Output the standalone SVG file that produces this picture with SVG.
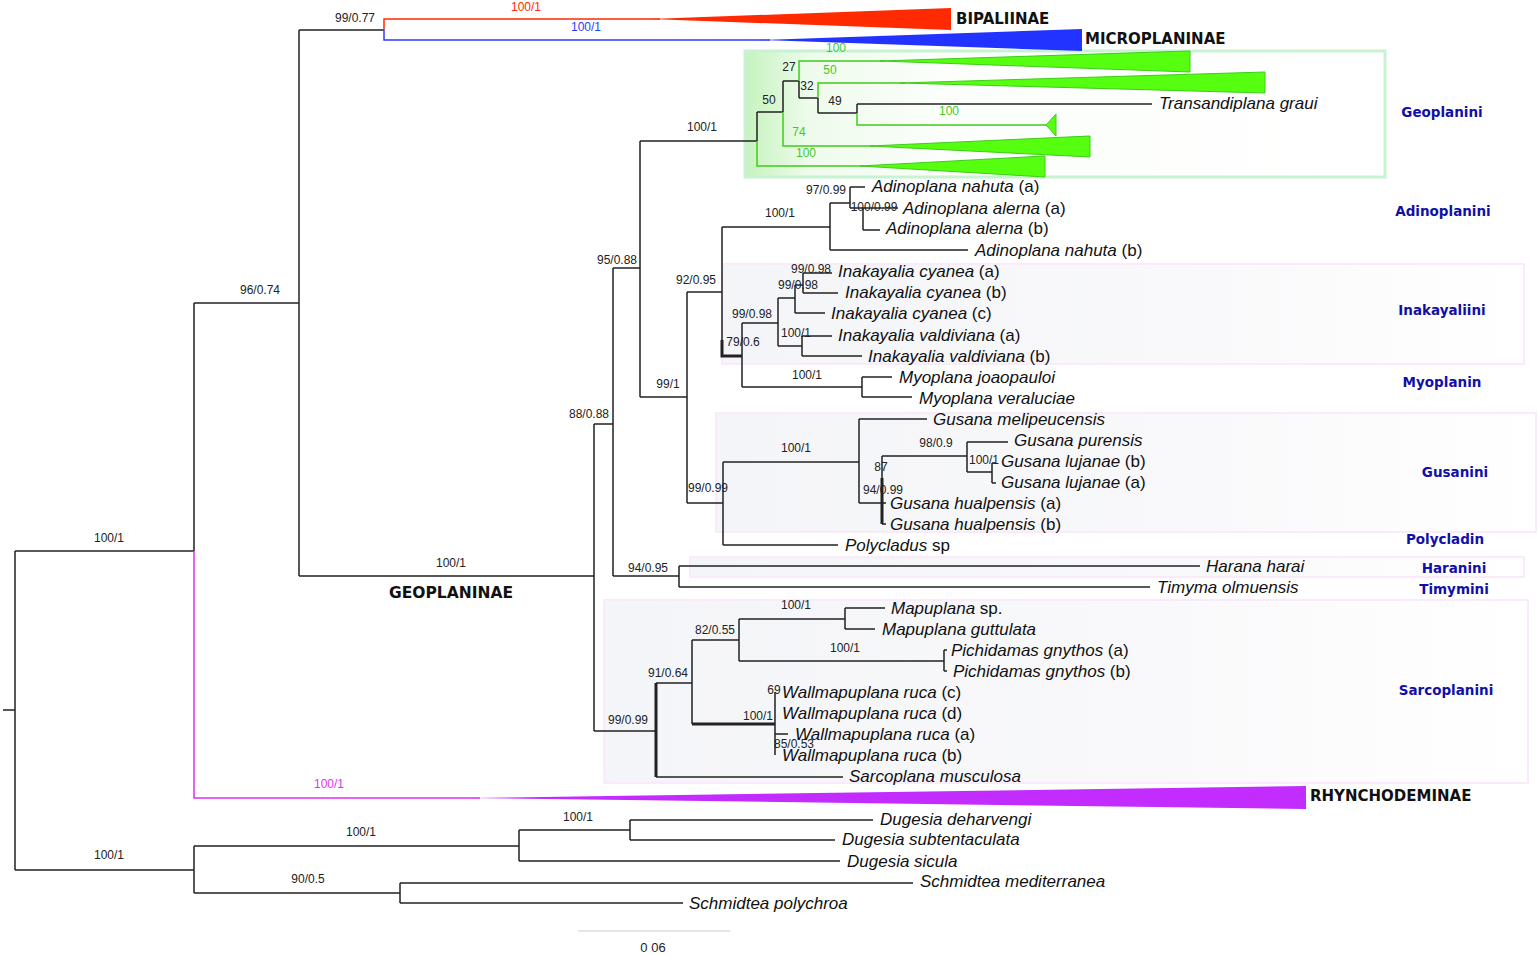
<svg xmlns="http://www.w3.org/2000/svg" width="1539" height="955" viewBox="0 0 1539 955">
<style>
.br{fill:none;stroke:#222;stroke-width:1.5}
.thk{fill:none;stroke:#222;stroke-width:3}
.gr{fill:none;stroke:#3fcc1a;stroke-width:1.5}
.gtri{fill:#55ff0f;stroke:#3fcc1a;stroke-width:1}
.sup{font-family:"Liberation Sans",Arial,sans-serif;font-size:12px;fill:#222;text-anchor:middle}
.gsup{font-family:"Liberation Sans",Arial,sans-serif;font-size:12px;fill:#3fcc1a;text-anchor:middle}
.tx{font-family:"Liberation Sans",Arial,sans-serif;font-size:17px;fill:#111}
.it{font-style:italic}
.sub{font-family:"DejaVu Sans",Verdana,sans-serif;font-weight:bold;font-size:15px;fill:#111}
.tribe{font-family:"DejaVu Sans",Verdana,sans-serif;font-weight:bold;font-size:13.5px;fill:#1010a8;text-anchor:middle}
.box{fill:url(#pale);stroke:#fbeafb;stroke-width:2}
</style>
<defs>
<linearGradient id="geo" x1="0" y1="0" x2="1" y2="0">
<stop offset="0" stop-color="#c6f3be"/>
<stop offset="0.1" stop-color="#eefbec"/>
<stop offset="0.3" stop-color="#fbfefa"/>
<stop offset="1" stop-color="#ffffff"/>
</linearGradient>
<linearGradient id="pale" x1="0" y1="0" x2="1" y2="0">
<stop offset="0" stop-color="#f4f5f8"/>
<stop offset="0.6" stop-color="#f9f9fb"/>
<stop offset="1" stop-color="#ffffff"/>
</linearGradient>
</defs>
<rect width="1539" height="955" fill="#ffffff"/>

<g id="backgrounds">
<rect x="745" y="51" width="640" height="126" fill="url(#geo)" stroke="#c8f3d2" stroke-width="3"/>
<rect class="box" x="722" y="264" width="802" height="100"/>
<rect class="box" x="716" y="413" width="820" height="119"/>
<rect class="box" x="690" y="557" width="834" height="20"/>
<rect class="box" x="604" y="600" width="924" height="183"/>
</g>

<g id="connectors">
<path class="br" d="M3 710H15M15 551V870M15 551H194M194 303V551M194 303H299M299 30V576M299 30H384"/>
<path fill="none" stroke="#ff2a00" stroke-width="1.5" d="M384 30V19H660"/>
<polygon fill="#ff2a00" points="650,19 951,8 951,30"/>
<path fill="none" stroke="#2a3cff" stroke-width="1.5" d="M384 30V40H770"/>
<polygon fill="#2233ff" points="760,40 1082,29 1082,51"/>
<path fill="none" stroke="#e02ef0" stroke-width="1.5" d="M194 551V798H480"/>
<polygon fill="#c22cff" points="470,798 1306,786 1306,809"/>

<path class="br" d="M299 576H594M594 424V731M594 424H613M613 268V576M613 268H640M640 141V397M640 141H757"/>
<path class="br" d="M757 112V141M757 112H783M783 81V112M783 81H799M799 81V98M799 98H818M818 98V113M818 113H857M857 104V113M857 104H1152"/>
<path class="gr" d="M799 81V61H885M818 98V83H905M857 113V125H1048M783 112V146H875M757 141V166H865"/>
<polygon class="gtri" points="880,61 1190,51 1190,72"/>
<polygon class="gtri" points="900,83 1265,72 1265,93"/>
<polygon class="gtri" points="1046,125 1056,114 1056,136"/>
<polygon class="gtri" points="870,146 1090,136 1090,157"/>
<polygon class="gtri" points="860,166 1045,156 1045,177"/>

<path class="br" d="M640 397H687M687 292V503M687 292H722M722 227V356M722 227H830M830 203V250M830 203H850M850 187V208M850 187H865M850 208H863M863 208V230M863 208H898M863 230H880M830 250H968"/>
<path class="thk" d="M722 340V356H742"/>
<path class="br" d="M742 323V387M742 323H778M778 298V346M778 298H795M795 285V313M795 285H803M803 273V293M803 273H832M803 293H838M795 313H825M778 346H802M802 336V356M802 336H832M802 356H862M742 387H862M862 377V397M862 377H892M862 397H912"/>
<path class="br" d="M687 503H723M723 462V545M723 462H859M859 419V503M859 419H927M859 503H882M882 456V524M882 456H967M967 442V472M967 442H1008M967 472H992M992 463V483M992 463H996M992 483H996M882 503H886M882 524H886M723 545H838"/>
<path class="thk" d="M882 478V524"/>
<path class="br" d="M613 576H679M679 566V587M679 566H1200M679 587H1150"/>
<path class="br" d="M594 731H656M656 683H692M692 640V724M692 640H739M739 619V661M739 619H845M845 608V629M845 608H885M845 629H875M739 661H944M944 650V671M944 650H947M944 671H947M775 692V755M775 734H788M656 777H843"/>
<path class="thk" d="M656 683V777M692 724H775"/>
<path class="br" d="M15 870H194M194 846V893M194 846H519M519 830V861M519 830H630M630 820V840M630 820H873M630 840H835M519 861H840M194 893H400M400 883V903M400 883H913M400 903H683"/>
<path fill="none" stroke="#cccccc" stroke-width="1" d="M578 931H730"/>
</g>

<g id="support-labels">
<text class="sup" x="355" y="22">99/0.77</text>
<text class="sup" x="526" y="11" style="fill:#ff2a00">100/1</text>
<text class="sup" x="586" y="31" style="fill:#2a3cff">100/1</text>
<text class="sup" x="260" y="294">96/0.74</text>
<text class="sup" x="109" y="542">100/1</text>
<text class="sup" x="451" y="567">100/1</text>
<text class="sup" x="589" y="418">88/0.88</text>
<text class="sup" x="617" y="264">95/0.88</text>
<text class="sup" x="702" y="131">100/1</text>
<text class="sup" x="769" y="104">50</text>
<text class="sup" x="789" y="71">27</text>
<text class="sup" x="807" y="90">32</text>
<text class="sup" x="835" y="105">49</text>
<text class="gsup" x="836" y="52">100</text>
<text class="gsup" x="830" y="74">50</text>
<text class="gsup" x="949" y="115">100</text>
<text class="gsup" x="799" y="136">74</text>
<text class="gsup" x="806" y="157">100</text>
<text class="sup" x="826" y="194">97/0.99</text>
<text class="sup" x="874" y="211">100/0.99</text>
<text class="sup" x="780" y="217">100/1</text>
<text class="sup" x="696" y="284">92/0.95</text>
<text class="sup" x="811" y="273">99/0.98</text>
<text class="sup" x="798" y="289">99/0.98</text>
<text class="sup" x="752" y="318">99/0.98</text>
<text class="sup" x="743" y="346">79/0.6</text>
<text class="sup" x="796" y="337">100/1</text>
<text class="sup" x="807" y="379">100/1</text>
<text class="sup" x="668" y="388">99/1</text>
<text class="sup" x="796" y="452">100/1</text>
<text class="sup" x="936" y="447">98/0.9</text>
<text class="sup" x="881" y="471">87</text>
<text class="sup" x="984" y="464">100/1</text>
<text class="sup" x="883" y="494">94/0.99</text>
<text class="sup" x="708" y="492">99/0.99</text>
<text class="sup" x="648" y="572">94/0.95</text>
<text class="sup" x="796" y="609">100/1</text>
<text class="sup" x="715" y="634">82/0.55</text>
<text class="sup" x="845" y="652">100/1</text>
<text class="sup" x="668" y="677">91/0.64</text>
<text class="sup" x="774" y="694">69</text>
<text class="sup" x="758" y="720">100/1</text>
<text class="sup" x="628" y="724">99/0.99</text>
<text class="sup" x="794" y="748">85/0.53</text>
<text class="sup" x="329" y="788" style="fill:#dd33ee">100/1</text>
<text class="sup" x="578" y="821">100/1</text>
<text class="sup" x="361" y="836">100/1</text>
<text class="sup" x="109" y="859">100/1</text>
<text class="sup" x="308" y="883">90/0.5</text>
<text class="sup" x="653" y="952" style="font-size:13px">0 06</text>
</g>

<g id="subfamilies">
<text id="bipaliinae" class="sub" x="956" y="24">BIPALIINAE</text>
<text id="microplaninae" class="sub" x="1085" y="44">MICROPLANINAE</text>
<text id="geoplaninae" class="sub" x="451" y="598" text-anchor="middle" style="font-size:15.5px">GEOPLANINAE</text>
<text id="rhynchodeminae" class="sub" x="1310" y="801">RHYNCHODEMINAE</text>
</g>

<g id="tribes">
<text class="tribe" x="1442" y="117">Geoplanini</text>
<text class="tribe" x="1443" y="216">Adinoplanini</text>
<text class="tribe" x="1442" y="315">Inakayaliini</text>
<text class="tribe" x="1442" y="387">Myoplanin</text>
<text class="tribe" x="1455" y="477">Gusanini</text>
<text class="tribe" x="1445" y="544">Polycladin</text>
<text class="tribe" x="1454" y="573">Haranini</text>
<text class="tribe" x="1454" y="594">Timymini</text>
<text class="tribe" x="1446" y="695">Sarcoplanini</text>
</g>

<g id="taxa">
<text class="tx it" x="1159" y="109">Transandiplana graui</text>
<text class="tx" x="872" y="192"><tspan class="it">Adinoplana nahuta</tspan> (a)</text>
<text class="tx" x="903" y="214"><tspan class="it">Adinoplana alerna</tspan> (a)</text>
<text class="tx" x="886" y="234"><tspan class="it">Adinoplana alerna</tspan> (b)</text>
<text class="tx" x="975" y="256"><tspan class="it">Adinoplana nahuta</tspan> (b)</text>
<text class="tx" x="838" y="277"><tspan class="it">Inakayalia cyanea</tspan> (a)</text>
<text class="tx" x="845" y="298"><tspan class="it">Inakayalia cyanea</tspan> (b)</text>
<text class="tx" x="831" y="319"><tspan class="it">Inakayalia cyanea</tspan> (c)</text>
<text class="tx" x="838" y="341"><tspan class="it">Inakayalia valdiviana</tspan> (a)</text>
<text class="tx" x="868" y="362"><tspan class="it">Inakayalia valdiviana</tspan> (b)</text>
<text class="tx it" x="899" y="383">Myoplana joaopauloi</text>
<text class="tx it" x="919" y="404">Myoplana veraluciae</text>
<text class="tx it" x="933" y="425">Gusana melipeucensis</text>
<text class="tx it" x="1014" y="446">Gusana purensis</text>
<text class="tx" x="1001" y="467"><tspan class="it">Gusana lujanae</tspan> (b)</text>
<text class="tx" x="1001" y="488"><tspan class="it">Gusana lujanae</tspan> (a)</text>
<text class="tx" x="890" y="509"><tspan class="it">Gusana hualpensis</tspan> (a)</text>
<text class="tx" x="890" y="530"><tspan class="it">Gusana hualpensis</tspan> (b)</text>
<text class="tx" x="845" y="551"><tspan class="it">Polycladus</tspan> sp</text>
<text class="tx it" x="1206" y="572">Harana harai</text>
<text class="tx it" x="1157" y="593">Timyma olmuensis</text>
<text class="tx" x="891" y="614"><tspan class="it">Mapuplana</tspan> sp.</text>
<text class="tx it" x="882" y="635">Mapuplana guttulata</text>
<text class="tx" x="951" y="656"><tspan class="it">Pichidamas gnythos</tspan> (a)</text>
<text class="tx" x="953" y="677"><tspan class="it">Pichidamas gnythos</tspan> (b)</text>
<text class="tx" x="782" y="698"><tspan class="it">Wallmapuplana ruca</tspan> (c)</text>
<text class="tx" x="782" y="719"><tspan class="it">Wallmapuplana ruca</tspan> (d)</text>
<text class="tx" x="795" y="740"><tspan class="it">Wallmapuplana ruca</tspan> (a)</text>
<text class="tx" x="782" y="761"><tspan class="it">Wallmapuplana ruca</tspan> (b)</text>
<text class="tx it" x="849" y="782">Sarcoplana musculosa</text>
<text class="tx it" x="880" y="825">Dugesia deharvengi</text>
<text class="tx it" x="842" y="845">Dugesia subtentaculata</text>
<text class="tx it" x="847" y="867">Dugesia sicula</text>
<text class="tx it" x="920" y="887">Schmidtea mediterranea</text>
<text class="tx it" x="689" y="909">Schmidtea polychroa</text>
</g>
</svg>
